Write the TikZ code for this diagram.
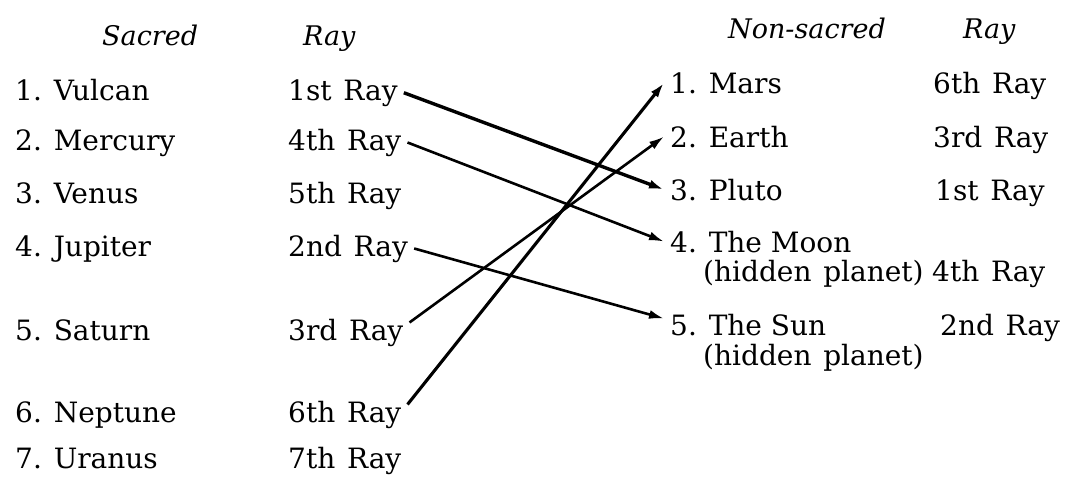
\documentclass[tikz,border=0pt]{standalone}
\usepackage{fontspec}
\setmainfont{DejaVu Serif}
\usetikzlibrary{arrows.meta,calc}
\newcommand\wsp{\hspace{0.42em}}
\begin{document}
\begin{tikzpicture}[x=1pt,y=-1pt,
  txt/.style={anchor=base west,inner xsep=6pt,inner ysep=1pt,font=\fontsize{28}{32}\selectfont},
  hd/.style={txt,font=\fontsize{27}{32}\selectfont\itshape},
  link/.style={line width=2.6pt,-{Latex[length=15pt,width=9pt]}},
]
\useasboundingbox (0,0) rectangle (1065,483);
% headers
\node[hd] (hs) at (96,45) {Sacred};
\node[hd] (hr) at (297,45) {Ray};
\node[hd] (hn) at (722,38) {Non-sacred};
\node[hd] (hr2) at (957,38) {Ray};
% left planets
\node[txt] (p1) at (9,100) {1. Vulcan};
\node[txt] (p2) at (9,150) {2. Mercury};
\node[txt] (p3) at (9,203) {3. Venus};
\node[txt] (p4) at (9,256) {4. Jupiter};
\node[txt] (p5) at (9,340) {5. Saturn};
\node[txt] (p6) at (9,422) {6. Neptune};
\node[txt] (p7) at (9,468) {7. Uranus};
% left rays
\node[txt] (r1) at (282,100) {1st\wsp Ray};
\node[txt] (r2) at (282,150) {4th\wsp Ray};
\node[txt] (r3) at (282,203) {5th\wsp Ray};
\node[txt] (r4) at (282,256) {2nd\wsp Ray};
\node[txt] (r5) at (282,340) {3rd\wsp Ray};
\node[txt] (r6) at (282,422) {6th\wsp Ray};
\node[txt] (r7) at (282,468) {7th\wsp Ray};
% right planets
\node[txt] (m1) at (664,93) {1. Mars};
\node[txt] (m2) at (664,147) {2. Earth};
\node[txt] (m3) at (664,200) {3. Pluto};
\node[txt] (m4) at (664,252) {4. The Moon};
\node[txt] (h4) at (697,281) {(hidden\wsp planet)};
\node[txt] (m5) at (664,335) {5. The Sun};
\node[txt] (h5) at (697,365) {(hidden\wsp planet)};
% right rays
\node[txt] (s1) at (927,93) {6th\wsp Ray};
\node[txt] (s2) at (927,147) {3rd\wsp Ray};
\node[txt] (s3) at (929,200) {1st\wsp Ray};
\node[txt] (s4) at (926,281) {4th\wsp Ray};
\node[txt] (s5) at (934,335) {2nd\wsp Ray};
% connectors
\draw[link,line width=3.4pt] (r1.east) -- (m3.west);
\draw[link] (r2.east) -- (m4.west);
\draw[link] (r4.east) -- ($(m5.west)+(0,-6)$);
\draw[link] ($(r5.east)+(0,-10)$) -- (m2.west);
\draw[link,line width=3.1pt] ($(r6.east)+(0,-10)$) -- (m1.west);
\end{tikzpicture}
\end{document}
